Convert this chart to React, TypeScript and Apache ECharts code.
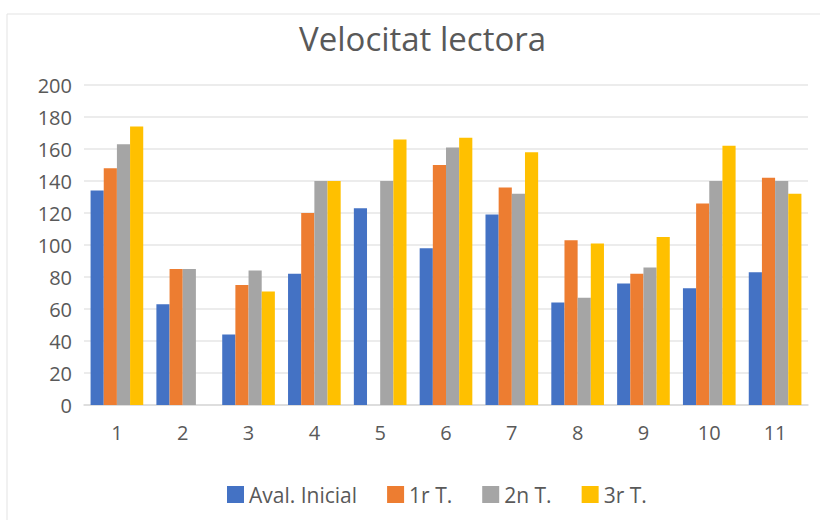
import React, { useEffect, useRef } from "react";
import * as echarts from "echarts";

const categories = ["1", "2", "3", "4", "5", "6", "7", "8", "9", "10", "11"];
const seriesNames = ["Aval. Inicial", "1r T.", "2n T.", "3r T."];
const avalInicial = [134, 63, 44, 82, 123, 98, 119, 64, 76, 73, 83];
const primerT = [148, 85, 75, 120, null, 150, 136, 103, 82, 126, 142];
const segonT = [163, 85, 84, 140, 140, 161, 132, 67, 86, 140, 140];
const tercerT = [174, null, 71, 140, 166, 167, 158, 101, 105, 162, 132];
const colors = ["#4472C4", "#ED7D31", "#A5A5A5", "#FFC000"];
const yTicks = { min: 0, max: 200, interval: 20 };

export default function App() {
  const ref = useRef<HTMLDivElement>(null);
  useEffect(() => {
    document.body.style.margin = "0";
    const chart = echarts.init(ref.current!, null, { renderer: "svg" });
    const font = "'Open Sans', 'Liberation Sans', sans-serif";
    const data = [avalInicial, primerT, segonT, tercerT];
    chart.setOption({
      animation: false,
      backgroundColor: "#ffffff",
      title: {
        text: "Velocitat lectora",
        left: 294,
        top: 17,
        textStyle: { color: "#595959", fontSize: 33, fontWeight: "normal", fontFamily: font },
      },
      graphic: [
        { type: "line", shape: { x1: 7, y1: 14, x2: 820, y2: 14 }, style: { stroke: "#e3e3e3", lineWidth: 1 } },
        { type: "line", shape: { x1: 7, y1: 14, x2: 7, y2: 520 }, style: { stroke: "#e3e3e3", lineWidth: 1 } },
      ],
      legend: {
        top: 479,
        left: 222,
        itemWidth: 17,
        itemHeight: 17,
        itemGap: 30,
        icon: "rect",
        textStyle: { color: "#595959", fontSize: 21, fontFamily: font },
        data: seriesNames,
      },
      grid: { left: 84, right: 12, top: 85, bottom: 115, containLabel: false },
      xAxis: {
        type: "category",
        data: categories,
        axisLine: { lineStyle: { color: "#d9d9d9", width: 1.5 } },
        axisTick: { show: false },
        axisLabel: { color: "#595959", fontSize: 20, fontFamily: font, margin: 17 },
      },
      yAxis: {
        type: "value",
        min: yTicks.min,
        max: yTicks.max,
        interval: yTicks.interval,
        axisLine: { show: false },
        axisTick: { show: false },
        splitLine: { lineStyle: { color: "#e6e6e6", width: 1.5 } },
        axisLabel: { color: "#595959", fontSize: 20, fontFamily: font, margin: 12 },
      },
      series: seriesNames.map((name, i) => ({
        name,
        type: "bar",
        data: data[i],
        barGap: "0%",
        barCategoryGap: "20%",
        itemStyle: { color: colors[i] },
      })),
    });
    return () => chart.dispose();
  }, []);
  return <div ref={ref} style={{ width: 820, height: 520 }} />;
}
